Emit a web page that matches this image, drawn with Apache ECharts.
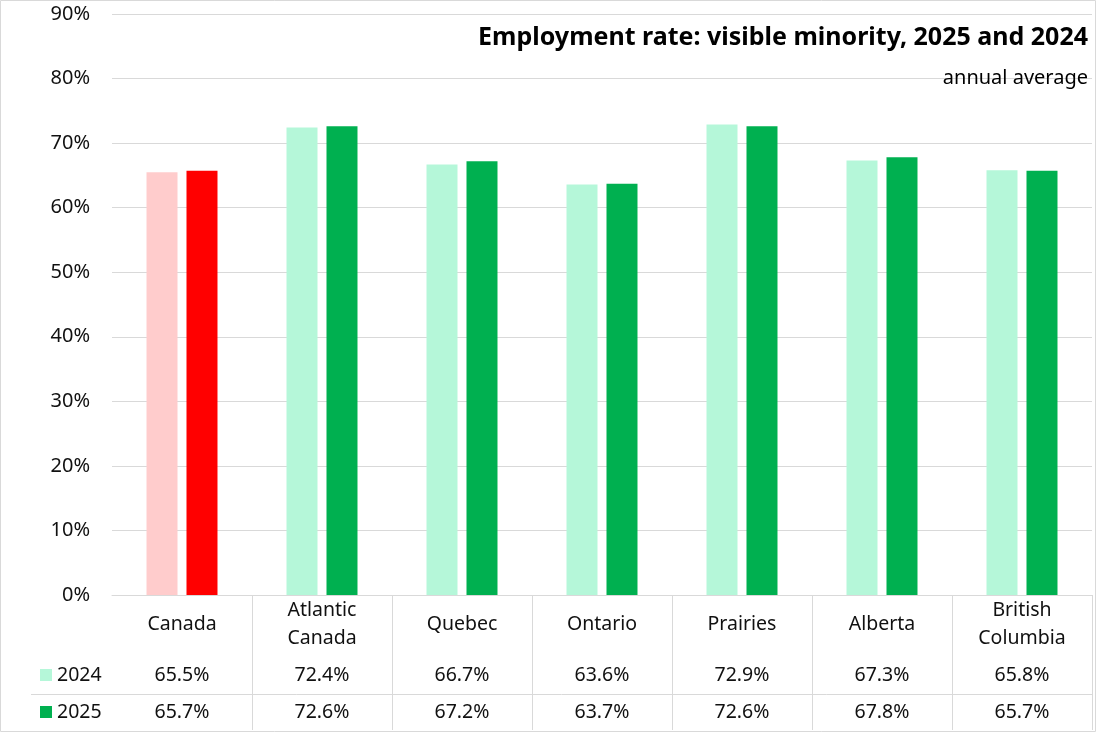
<!DOCTYPE html>
<html>
<head>
<meta charset="utf-8">
<script src="https://cdn.jsdelivr.net/npm/echarts@6/dist/echarts.min.js"></script>
<style>html,body{margin:0;padding:0;background:#fff}#c{width:1096px;height:732px}</style>
</head>
<body>
<div id="c"></div>
<script>
const categories = ['Canada', 'Atlantic\nCanada', 'Quebec', 'Ontario', 'Prairies', 'Alberta', 'British\nColumbia'];
const values2024 = [65.5, 72.4, 66.7, 63.6, 72.9, 67.3, 65.8];
const values2025 = [65.7, 72.6, 67.2, 63.7, 72.6, 67.8, 65.7];
const yTicks = { min: 0, max: 90, interval: 10 };
const seriesNames = ['2024', '2025'];

const FONT = 'Noto Sans';
const FS = 19.5;
const TXT = '#111';
const GRIDC = '#d9d9d9';
const c2024 = '#b5f7d9', c2025 = '#00b050';
const canada2024 = '#ffcccc', canada2025 = '#ff0000';

function fmt(v) { return v.toFixed(1) + '%'; }

const chart = echarts.init(document.getElementById('c'));
chart.setOption({
  animation: false,
  textStyle: { fontFamily: FONT },
  title: [
    { text: 'Employment rate: visible minority, 2025 and 2024', right: 8, top: 25, padding: 0,
      textStyle: { fontFamily: FONT, fontWeight: 'bold', fontSize: 25, color: '#000' } },
    { text: 'annual average', right: 8, top: 68, padding: 0,
      textStyle: { fontFamily: FONT, fontWeight: 'normal', fontSize: 20, color: '#000' } }
  ],
  legend: {
    orient: 'vertical', left: 35, top: 660, itemWidth: 12, itemHeight: 12, itemGap: 17,
    icon: 'rect', selectedMode: false,
    textStyle: { fontSize: FS, color: TXT, lineHeight: 20, fontFamily: FONT },
    data: seriesNames
  },
  grid: { left: 112, right: 4, top: 14, bottom: 137, containLabel: false },
  xAxis: [
    { type: 'category', data: categories, position: 'bottom',
      axisLine: { lineStyle: { color: GRIDC, width: 1 } },
      axisTick: { show: true, length: 135, interval: function (i) { return i !== 0; }, lineStyle: { color: GRIDC } },
      axisLabel: { interval: 0, margin: 29, verticalAlign: 'middle', fontSize: FS, color: TXT, lineHeight: 28, fontFamily: FONT } },
    { type: 'category', data: categories, position: 'bottom', gridIndex: 0,
      axisLine: { show: false }, axisTick: { show: false }, splitLine: { show: false },
      axisLabel: { interval: 0, margin: 80, verticalAlign: 'middle', fontSize: FS, color: TXT, fontFamily: FONT,
        formatter: function (v, i) { return fmt(values2024[i]); } } },
    { type: 'category', data: categories, position: 'bottom', gridIndex: 0,
      axisLine: { show: false }, axisTick: { show: false }, splitLine: { show: false },
      axisLabel: { interval: 0, margin: 117, verticalAlign: 'middle', fontSize: FS, color: TXT, fontFamily: FONT,
        formatter: function (v, i) { return fmt(values2025[i]); } } }
  ],
  yAxis: {
    type: 'value', min: yTicks.min, max: yTicks.max, interval: yTicks.interval,
    axisLine: { show: false }, axisTick: { show: false },
    splitLine: { lineStyle: { color: GRIDC, width: 1 } },
    axisLabel: { margin: 22, fontSize: 20, color: TXT, fontFamily: FONT, formatter: function (v) { return v + '%'; } }
  },
  series: [
    { name: seriesNames[0], type: 'bar', xAxisIndex: 0, barWidth: 31, barGap: '29%',
      itemStyle: { color: c2024 },
      data: values2024.map(function (v, i) { return i === 0 ? { value: v, itemStyle: { color: canada2024 } } : v; }) },
    { name: seriesNames[1], type: 'bar', xAxisIndex: 0, barWidth: 31, barGap: '29%',
      itemStyle: { color: c2025 },
      data: values2025.map(function (v, i) { return i === 0 ? { value: v, itemStyle: { color: canada2025 } } : v; }) }
  ],
  graphic: [
    { type: 'line', shape: { x1: 31, y1: 694.5, x2: 1092, y2: 694.5 }, style: { stroke: GRIDC, lineWidth: 1 }, silent: true },
    { type: 'rect', shape: { x: 0.5, y: 0.5, width: 1095, height: 731 }, style: { fill: 'none', stroke: GRIDC, lineWidth: 1 }, silent: true }
  ]
});
</script>
</body>
</html>
